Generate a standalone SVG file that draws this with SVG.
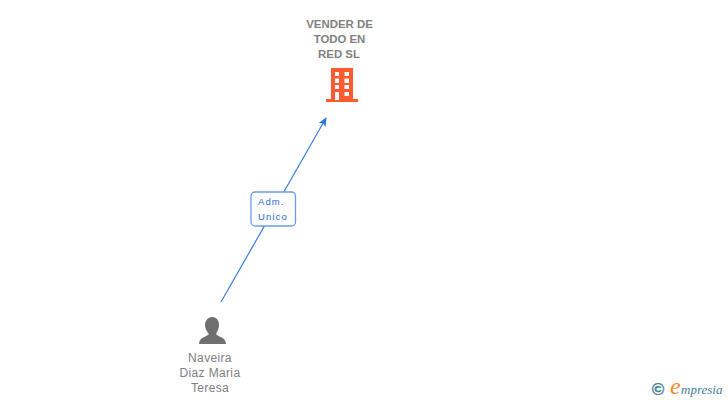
<svg xmlns="http://www.w3.org/2000/svg" width="728" height="400" viewBox="0 0 728 400">
<style>
.co{font:bold 11.4px "Liberation Sans",Arial,sans-serif;fill:#808080;text-anchor:middle}
.pe{font:12px "Liberation Sans",Arial,sans-serif;fill:#808080;text-anchor:middle;letter-spacing:.35px}
.ed{font:9.5px "Liberation Sans",Arial,sans-serif;fill:#1f6ad8;letter-spacing:1.1px}
</style>
<defs><marker id="arr" markerWidth="10" markerHeight="10" refX="8" refY="4" orient="auto" markerUnits="userSpaceOnUse"><path d="M0 0L9 4L0 8L2 4Z" fill="#2f74d8"/></marker></defs>
<rect width="728" height="400" fill="#fff"/>
<g id="connectors">
<path d="M221 302L326 118" stroke="#3a7fe0" stroke-width="1.200" fill="none" marker-end="url(#arr)"/>
</g>
<g id="edge-label">
<rect x="251" y="192" width="44.500" height="34" rx="4" fill="#fff" stroke="#6a9de6" stroke-width="1.300"/>
<text class="ed" x="258" y="205">Adm.</text>
<text class="ed" x="258" y="220">Unico</text>
</g>
<g id="node-company">
<text class="co" x="339.500" y="27.500">VENDER DE</text>
<text class="co" x="339.500" y="42.500">TODO EN</text>
<text class="co" x="339" y="57.500">RED SL</text>
<path fill="#ff5a30" fill-rule="evenodd" d="M331 68H353V99H358V102H326V99H331ZM335 72V76H339V72ZM344.500 72V76H349V72ZM335 78.500V83H339V78.500ZM344.500 78.500V83H349V78.500ZM335 85V89H339V85ZM344.500 85V89H349V85ZM335 92V100H339V92ZM344.500 92V96H349V92Z"/>
</g>
<g id="node-person">
<path fill="#6f6f6f" d="M212 317C217 317 219 321 219 325C219 329 217 332 216 334C218 337 226 337 226 344H199C199 337 207 337 209 334C207 332 205 329 205 325C205 321 208 317 212 317Z"/>
<text class="pe" x="210" y="362">Naveira</text>
<text class="pe" x="210" y="377">Diaz Maria</text>
<text class="pe" x="210" y="392">Teresa</text>
</g>
<g id="watermark">
<text x="658" y="395" font-family="Liberation Sans,sans-serif" font-size="17" font-weight="bold" fill="#3f7f96" stroke="#3f7f96" stroke-width=".3" text-anchor="middle">©</text>
<text x="670" y="394" font-family="Liberation Serif,serif" font-style="italic" font-size="24" fill="#f08a1d">e</text>
<text x="681" y="394" font-family="Liberation Serif,serif" font-style="italic" font-size="13" fill="#3f7f96">mpresia</text>
</g>
</svg>
